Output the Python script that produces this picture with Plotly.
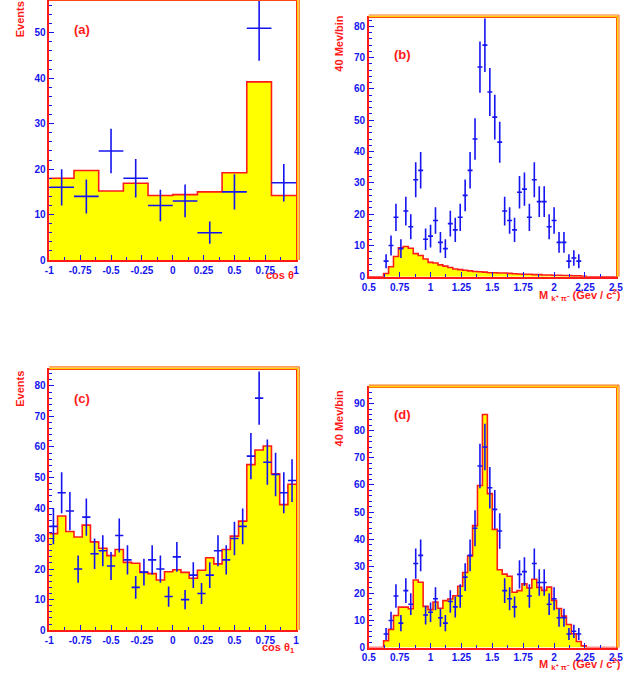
import numpy as np
import plotly.graph_objects as go
from plotly.subplots import make_subplots

RED = '#ff1a1a'
BLUE = '#1414f0'
YELLOW = '#ffff00'
FONT = 'Liberation Sans'

# (a) cos theta, 10 bins from -1 to 1
a_hist = [18.0, 19.7, 15.2, 16.9, 14.2, 14.4, 15.0, 19.2, 39.2, 14.2]
a_data = [16, 14, 24, 18, 12, 13, 6, 15, 51, 17]

# (b) / (d) K+ pi- mass, 40 MeV bins from 0.5 to 2.5
b_hist = [0, 0, 0,
          1.05, 3.2, 6.5, 9.3, 9.7, 9.1, 7.4, 6.8, 5.7, 4.6, 4.4, 3.8, 3.4, 3.0,
          2.5, 2.3, 2.1, 1.9, 1.7, 1.6, 1.5, 1.3, 1.3, 1.2, 1.2, 1.1, 1.0, 0.9,
          0.8, 0.8, 0.7, 0.7, 0.6, 0.6, 0.5, 0.5, 0.4, 0.4, 0.3, 0.3, 0.2,
          0, 0, 0, 0, 0, 0]
d_hist = [0, 0, 0,
          2.5, 6.7, 11.8, 14.9, 14.9, 14.3, 24.9, 24.1, 15.2, 14.0, 16.8, 14.5,
          17.3, 17.9, 19.1, 22.6, 27.7, 33.8, 45.0, 59.8, 86.0, 56.8, 43.6, 28.7,
          27.1, 26.3, 20.4, 21.0, 23.5, 22.0, 25.2, 22.2, 21.1, 22.3, 17.4, 14.4,
          11.6, 8.5, 5.1, 2.2, 0.6,
          0, 0, 0, 0, 0, 0]
m_data = [0, 0, 0,
          5, 10, 19, 9, 21, 16, 31, 34, 12, 13, 18, 11, 9, 17, 15, 19, 26, 34,
          44, 67, 74, 59, 51, 43, 21, 18, 15, 27, 28, 19, 31, 24, 24, 16, 18,
          11, 11, 5, 6, 5,
          0, 0, 0, 0, 0, 0, 0]

# (c) cos theta_1, 30 bins from -1 to 1
c_hist = [31.6, 37.4, 32.3, 30.5, 34.4, 28.9, 26.8, 24.4, 26.4, 22.2,
          21.9, 18.9, 18.5, 16.4, 19.1, 19.8, 18.9, 17.0, 19.6, 23.7,
          21.7, 26.4, 30.8, 35.7, 54.2, 59.0, 60.3, 51.2, 41.1, 47.8]
c_data = [34, 45, 39, 20, 37, 25, 26, 21, 31, 23, 14, 19, 23, 20, 11,
          24, 10, 18, 12, 18, 26, 23, 30, 34, 57, 76, 55, 51, 45, 49]

cos_ticks = [-1, -0.75, -0.5, -0.25, 0, 0.25, 0.5, 0.75, 1]
cos_text = ['-1', '-0.75', '-0.5', '-0.25', '0', '0.25', '0.5', '0.75', '1']
m_ticks = [0.5, 0.75, 1, 1.25, 1.5, 1.75, 2, 2.25, 2.5]
m_text = ['0.5', '0.75', '1', '1.25', '1.5', '1.75', '2', '2.25', '2.5']

fig = make_subplots(rows=2, cols=2)


def add_panel(row, col, edges, hist, data):
    edges = np.asarray(edges)
    centers = (edges[:-1] + edges[1:]) / 2
    half = (edges[1] - edges[0]) / 2
    fig.add_trace(go.Scatter(
        x=edges, y=list(hist) + [hist[-1]], mode='lines',
        line=dict(shape='hv', color=RED, width=1.6),
        fill='tozeroy', fillcolor=YELLOW, hoverinfo='skip'), row=row, col=col)
    keep = [i for i, v in enumerate(data) if v > 0]
    fig.add_trace(go.Scatter(
        x=centers[keep], y=[data[i] for i in keep], mode='markers',
        marker=dict(size=1, color='rgba(0,0,0,0)'),
        error_y=dict(type='sqrt', color=BLUE, thickness=1.6, width=0),
        error_x=dict(type='constant', value=half, color=BLUE, thickness=1.6, width=0)),
        row=row, col=col)


add_panel(1, 1, np.linspace(-1, 1, 11), a_hist, a_data)
add_panel(1, 2, np.linspace(0.5, 2.5, 51), b_hist, m_data)
add_panel(2, 1, np.linspace(-1, 1, 31), c_hist, c_data)
add_panel(2, 2, np.linspace(0.5, 2.5, 51), d_hist, m_data)

tickfont = dict(family=FONT, size=10, color=BLUE, weight='bold')
common = dict(showgrid=False, zeroline=False, showline=True, linecolor=RED, linewidth=1.5,
              mirror=True, ticks='inside', ticklen=5, tickcolor=BLUE, tickwidth=1.2,
              tickfont=tickfont)

domains = {
    1: ([0.0687, 0.4694], [0.6148, 0.9985], [0, 57], 'cos'),
    2: ([0.5873, 0.9884], [0.5899, 0.9731], [0, 82.6], 'm'),
    3: ([0.0687, 0.4694], [0.0665, 0.4518], [0, 85.2], 'cos'),
    4: ([0.5873, 0.9884], [0.0407, 0.4248], [0, 95.7], 'm'),
}
for k, (xd, yd, yr, kind) in domains.items():
    sx = '' if k == 1 else str(k)
    if kind == 'cos':
        xopt = dict(range=[-1, 1], tickvals=cos_ticks, ticktext=cos_text,
                    minor=dict(tick0=-1, dtick=0.125, ticklen=3, tickcolor=BLUE, ticks='inside'))
    else:
        xopt = dict(range=[0.5, 2.5], tickvals=m_ticks, ticktext=m_text,
                    minor=dict(tick0=0.5, dtick=0.125, ticklen=3, tickcolor=BLUE, ticks='inside'))
    fig.layout['xaxis' + sx].update(domain=xd, **xopt, **common)
    fig.layout['yaxis' + sx].update(domain=yd, range=yr, tick0=0, dtick=10,
                                    minor=dict(tick0=0, dtick=2, ticklen=3, tickcolor=BLUE, ticks='inside'),
                                    **common)
    # double border on top and right edges
    dx, dy = 1.6 / 630, 1.6 / 681
    for off, colr, w in [(1, '#ffd400', 1.6), (2, '#ff7a1a', 1.2)]:
        fig.add_shape(type='line', xref='paper', yref='paper',
                      x0=xd[0], x1=xd[1] + off * dx, y0=yd[1] + off * dy, y1=yd[1] + off * dy,
                      line=dict(color=colr, width=w))
        fig.add_shape(type='line', xref='paper', yref='paper',
                      x0=xd[1] + off * dx, x1=xd[1] + off * dx, y0=yd[0], y1=yd[1] + off * dy,
                      line=dict(color=colr, width=w))

title_font = dict(family=FONT, size=11, color=RED, weight='bold')
label_font = dict(family=FONT, size=13, color=RED, weight='bold')
notes = [
    dict(text='Events', x=0.0206, y=0.971, textangle=-90, font=title_font),
    dict(text='Events', x=0.0206, y=0.4236, textangle=-90, font=title_font),
    dict(text='40 Mev/bin', x=0.5397, y=0.936, textangle=-90, font=title_font),
    dict(text='40 Mev/bin', x=0.5397, y=0.3808, textangle=-90, font=title_font),
    dict(text='cos θ', x=0.4685, y=0.5925, xanchor='right', font=title_font),
    dict(text='cos θ<sub>1</sub>', x=0.4710, y=0.040, xanchor='right', font=title_font),
    dict(text='M <sub>k⁺ π⁻</sub> (Gev / c<sup>2</sup>)', x=1.0, y=0.563, xanchor='right', font=title_font),
    dict(text='M <sub>k⁺ π⁻</sub> (Gev / c<sup>2</sup>)', x=1.0, y=0.017, xanchor='right', font=title_font),
    dict(text='(a)', x=0.1222, y=0.956, font=label_font),
    dict(text='(b)', x=0.6413, y=0.919, font=label_font),
    dict(text='(c)', x=0.1222, y=0.4097, font=label_font),
    dict(text='(d)', x=0.6413, y=0.3862, font=label_font),
]
for n in notes:
    n.setdefault('xanchor', 'center')
    fig.add_annotation(xref='paper', yref='paper', showarrow=False, yanchor='middle', **n)

fig.update_layout(width=630, height=681, margin=dict(l=0, r=0, t=0, b=0),
                  paper_bgcolor='white', plot_bgcolor='white', showlegend=False)
fig.write_html("out.html", config={'displayModeBar': False},
               post_script="document.body.style.margin='0';document.body.style.overflow='hidden';")
